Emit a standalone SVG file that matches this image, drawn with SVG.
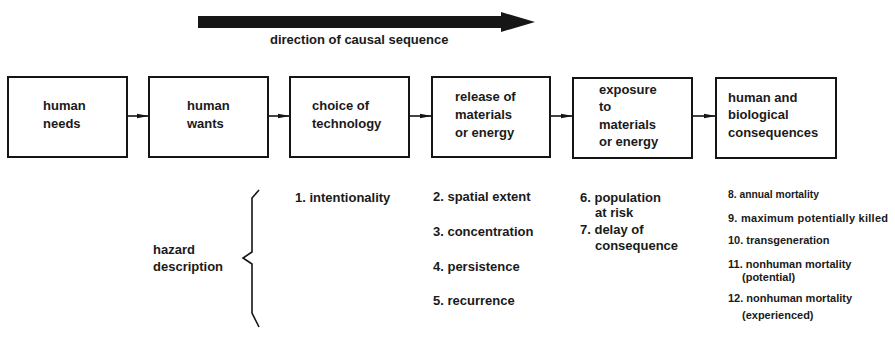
<svg xmlns="http://www.w3.org/2000/svg" width="895" height="337" viewBox="0 0 895 337">
  <defs>
    <marker id="head" viewBox="0 0 12 6" refX="12" refY="3" markerWidth="12" markerHeight="6" markerUnits="userSpaceOnUse" orient="auto">
      <path d="M0,0.8 L12,3 L0,5.2 Z" fill="#151515"/>
    </marker>
    <style>
      .box { fill: #fff; stroke: #151515; stroke-width: 2; }
      .link { stroke: #151515; stroke-width: 1.6; fill: none; }
      text { font-family: "Liberation Sans", Arial, sans-serif; font-weight: bold; fill: #1a1a1a; }
      .lbl { font-size: 13px; }
      .sm { font-size: 11px; }
    </style>
  </defs>
  <rect width="895" height="337" fill="#fff"/>

  <!-- causal direction arrow -->
  <g id="direction">
    <path d="M198,16 L501,16 L501,12 L535,22 L501,32 L501,28 L198,28 Z" fill="#161616"/>
    <text class="lbl" x="270" y="44">direction of causal sequence</text>
  </g>

  <!-- stages -->
  <g id="needs">
    <rect class="box" x="8" y="77" width="119" height="80"/>
    <text class="lbl" x="43" y="110">human</text>
    <text class="lbl" x="43" y="128">needs</text>
  </g>
  <g id="wants">
    <rect class="box" x="149" y="77" width="119" height="80"/>
    <text class="lbl" x="187" y="110">human</text>
    <text class="lbl" x="187" y="128">wants</text>
  </g>
  <g id="technology">
    <rect class="box" x="290" y="77" width="119" height="80"/>
    <text class="lbl" x="312" y="110">choice of</text>
    <text class="lbl" x="312" y="128">technology</text>
  </g>
  <g id="release">
    <rect class="box" x="432" y="77" width="118" height="80"/>
    <text class="lbl" x="455" y="101">release of</text>
    <text class="lbl" x="455" y="119">materials</text>
    <text class="lbl" x="455" y="137">or energy</text>
  </g>
  <g id="exposure">
    <rect class="box" x="573" y="78" width="119" height="80"/>
    <text class="lbl" x="599" y="94">exposure</text>
    <text class="lbl" x="599" y="111">to</text>
    <text class="lbl" x="599" y="129">materials</text>
    <text class="lbl" x="599" y="146">or energy</text>
  </g>
  <g id="consequences">
    <rect class="box" x="716" y="78" width="120" height="80"/>
    <text class="lbl" x="728" y="102">human and</text>
    <text class="lbl" x="728" y="119">biological</text>
    <text class="lbl" x="728" y="137">consequences</text>
  </g>

  <!-- connectors between stages -->
  <g id="connectors">
    <line class="link" x1="127" y1="116" x2="149" y2="116" marker-end="url(#head)"/>
    <line class="link" x1="268" y1="116" x2="290" y2="116" marker-end="url(#head)"/>
    <line class="link" x1="409" y1="116" x2="432" y2="116" marker-end="url(#head)"/>
    <line class="link" x1="550" y1="116" x2="573" y2="116" marker-end="url(#head)"/>
    <line class="link" x1="692" y1="116" x2="716" y2="116" marker-end="url(#head)"/>
  </g>

  <!-- hazard description -->
  <g id="hazard">
    <text class="lbl" x="153" y="254">hazard</text>
    <text class="lbl" x="153" y="271">description</text>
    <path d="M259,190 L252,198 L252,252 L243,258 L252,264 L252,313 L259,327" fill="none" stroke="#151515" stroke-width="1.6"/>
  </g>

  <g id="descriptors">
    <text class="lbl" x="295" y="202">1. intentionality</text>

    <text class="lbl" x="433" y="201">2. spatial extent</text>
    <text class="lbl" x="433" y="236">3. concentration</text>
    <text class="lbl" x="433" y="271">4. persistence</text>
    <text class="lbl" x="433" y="305">5. recurrence</text>

    <text class="lbl" x="580" y="202">6. population</text>
    <text class="lbl" x="595" y="217">at risk</text>
    <text class="lbl" x="580" y="234">7. delay of</text>
    <text class="lbl" x="595" y="250">consequence</text>

    <text class="sm" x="728" y="198" style="font-size:10.3px">8. annual mortality</text>
    <text class="sm" x="728" y="222" textLength="160" lengthAdjust="spacing">9. maximum potentially killed</text>
    <text class="sm" x="728" y="244">10. transgeneration</text>
    <text class="sm" x="728" y="268">11. nonhuman mortality</text>
    <text class="sm" x="742" y="281">(potential)</text>
    <text class="sm" x="728" y="302">12. nonhuman mortality</text>
    <text class="sm" x="742" y="319">(experienced)</text>
  </g>
</svg>
